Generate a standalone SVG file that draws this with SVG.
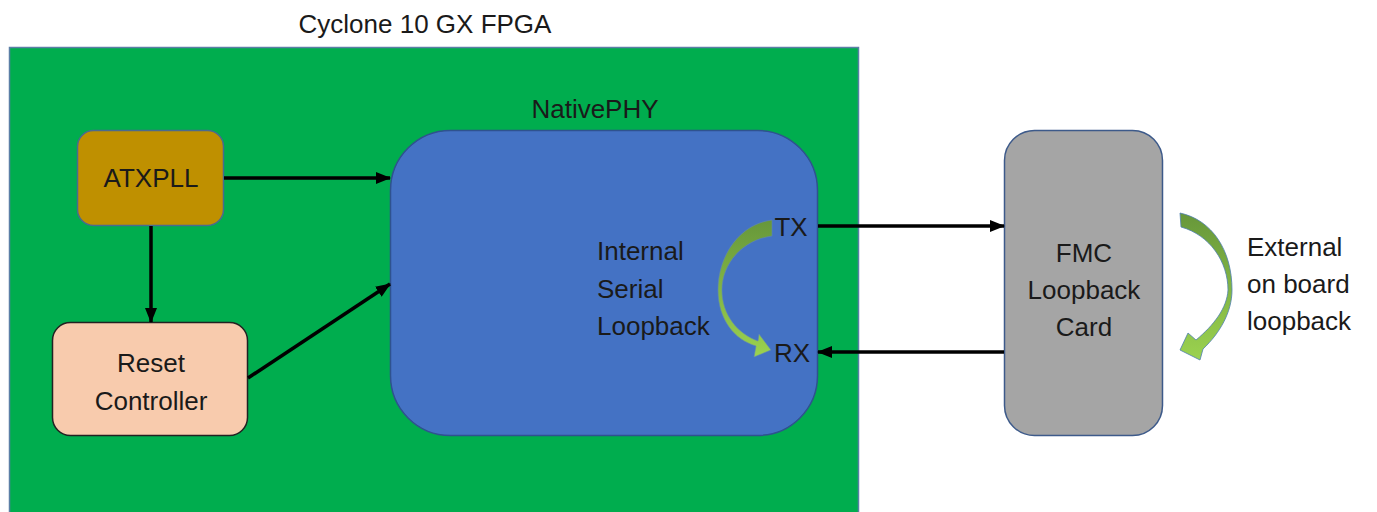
<svg xmlns="http://www.w3.org/2000/svg" width="1377" height="512" viewBox="0 0 1377 512">
<defs>
<style>
text{font-family:"Liberation Sans",Arial,sans-serif;font-size:26px;fill:#1a1a1a}
.c{text-anchor:middle}
.conn{stroke:#000;stroke-width:3.5;fill:none;marker-end:url(#ah)}
</style>
<marker id="ah" markerUnits="userSpaceOnUse" markerWidth="15" markerHeight="12" refX="14" refY="6" orient="auto">
<path d="M0,0 L15,6 L0,12 z" fill="#000"/>
</marker>
<linearGradient id="g1" x1="0" y1="0" x2="0" y2="1">
<stop offset="0" stop-color="#67973a"/>
<stop offset="1" stop-color="#9bd24f"/>
</linearGradient>
</defs>
<rect width="1377" height="512" fill="#fff"/>
<text class="c" x="425" y="33">Cyclone 10 GX FPGA</text>
<g id="fpga">
<rect x="9.5" y="47.5" width="849" height="470" fill="#00ad4e" stroke="#5b7fa6" stroke-width="1.5"/>
</g>
<g id="nativephy">
<text class="c" x="595" y="118">NativePHY</text>
<rect x="390.5" y="130.5" width="427" height="305" rx="60" fill="#4472c4" stroke="#2f528f" stroke-width="1.5"/>
<text x="597" y="260">Internal</text>
<text x="597" y="298">Serial</text>
<text x="597" y="335">Loopback</text>
<text class="c" x="791" y="236">TX</text>
<text class="c" x="792" y="362">RX</text>
<path d="M772,220 C740,224 718,255 718,290 C718,320 735,340 756,346 L754,357 L771,350 L759,334 L758,341 C738,334 722,315 722,290 C722,264 742,240 772,236 Z" fill="url(#g1)" stroke="#5f86b3" stroke-width="0.6"/>
</g>
<g id="atxpll">
<rect x="77.5" y="130.5" width="146" height="95" rx="16" fill="#bf9000" stroke="#4a6a8f" stroke-width="1.5"/>
<text class="c" x="151" y="187">ATXPLL</text>
</g>
<g id="reset">
<rect x="52.5" y="322.5" width="195" height="113" rx="18" fill="#f8cbad" stroke="#222" stroke-width="1.5"/>
<text class="c" x="151" y="372">Reset</text>
<text class="c" x="151" y="410">Controller</text>
</g>
<g id="fmc">
<rect x="1004.5" y="130.5" width="158" height="305" rx="30" fill="#a5a5a5" stroke="#3d5a8a" stroke-width="1.5"/>
<text class="c" x="1084" y="262">FMC</text>
<text class="c" x="1084" y="299">Loopback</text>
<text class="c" x="1084" y="336">Card</text>
</g>
<g id="external">
<path d="M1180,213 C1212,220 1232,250 1232,290 C1232,312 1220,333 1203,349 L1200,360 L1180,350 L1188,333 L1196,340 C1214,325 1227,308 1228,290 C1228,262 1210,235 1181,227 Z" fill="url(#g1)" stroke="#4f7fb0" stroke-width="0.8"/>
<text x="1247" y="256">External</text>
<text x="1247" y="293">on board</text>
<text x="1247" y="330">loopback</text>
</g>
<g id="connectors">
<path class="conn" d="M224,178 H390"/>
<path class="conn" d="M151,226 V322"/>
<path class="conn" d="M248,378 L390,284"/>
<path class="conn" d="M818,226 H1004"/>
<path class="conn" d="M1004,352 H818"/>
</g>
</svg>
